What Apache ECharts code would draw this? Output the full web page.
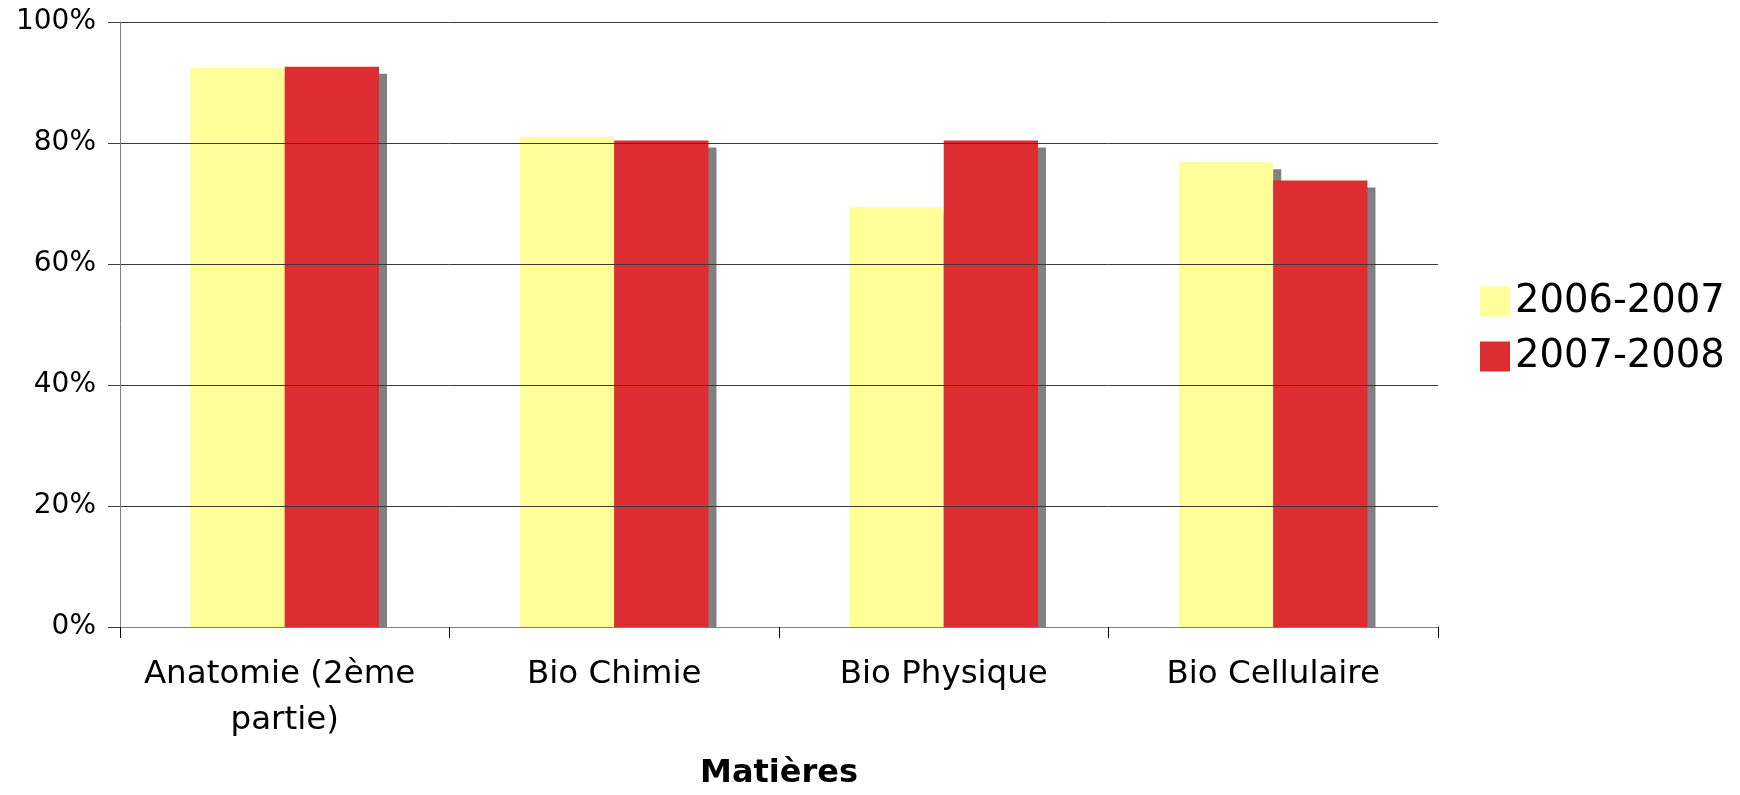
<!DOCTYPE html>
<html>
<head>
<meta charset="utf-8">
<script src="https://cdn.jsdelivr.net/npm/echarts@6/dist/echarts.min.js"></script>
<style>
html,body{margin:0;padding:0;background:#fff;}
#chart{width:1740px;height:795px;}
</style>
</head>
<body>
<div id="chart"></div>
<script>
const categories = ['Anatomie (2ème partie)', 'Bio Chimie', 'Bio Physique', 'Bio Cellulaire'];
const seriesNames = ['2006-2007', '2007-2008'];
const values2006 = [92.4, 81.0, 69.4, 76.8];
const values2007 = [92.6, 80.4, 80.4, 73.8];
const yTicks = [0, 20, 40, 60, 80, 100];

const FONT = 'DejaVu Sans';
const BAR_FRAC = 0.286;

function shadowRenderer(side) {
  return function (params, api) {
    const i = api.value(0), v = api.value(1);
    const top = api.coord([i, v]);
    const base = api.coord([i, 0]);
    const cw = api.size([1, 0])[0];
    const bw = cw * BAR_FRAC;
    const x0 = side === 0 ? top[0] - bw : top[0];
    return {
      type: 'rect',
      shape: { x: x0 + 8, y: top[1] + 7, width: bw, height: Math.max(0, base[1] - top[1] - 7) },
      style: { fill: '#808080' }
    };
  };
}

const chart = echarts.init(document.getElementById('chart'), null, { renderer: 'canvas' });
chart.setOption({
  animation: false,
  backgroundColor: '#ffffff',
  grid: { left: 120, right: 302, top: 22, bottom: 161, containLabel: false },
  legend: {
    data: seriesNames,
    orient: 'vertical',
    left: 1475,
    top: 277,
    itemWidth: 30,
    itemHeight: 30,
    itemGap: 16,
    icon: 'rect',
    textStyle: { fontFamily: FONT, fontSize: 38.5, color: '#000', lineHeight: 38 }
  },
  xAxis: {
    type: 'category',
    data: categories,
    boundaryGap: true,
    z: 10,
    axisLine: { show: true, lineStyle: { color: '#808080', width: 1 } },
    axisTick: { show: true, length: 11, alignWithLabel: false, lineStyle: { color: '#000', width: 1 } },
    axisLabel: {
      fontFamily: FONT, fontSize: 32.5, color: '#000', margin: 25, lineHeight: 46,
      width: 310, overflow: 'break', interval: 0
    },
    name: 'Matières',
    nameLocation: 'middle',
    nameGap: 131,
    nameTextStyle: { fontFamily: FONT, fontSize: 32, fontWeight: 'bold', color: '#000' }
  },
  yAxis: {
    type: 'value',
    min: yTicks[0],
    max: yTicks[yTicks.length - 1],
    interval: 20,
    z: 10,
    axisLine: { show: true, lineStyle: { color: '#808080', width: 1 } },
    axisTick: { show: true, length: 12, lineStyle: { color: '#404040', width: 1 } },
    splitLine: { show: true, lineStyle: { color: '#3a3a3a', width: 1 } },
    axisLabel: {
      fontFamily: FONT, fontSize: 28, color: '#000', margin: 24,
      formatter: function (v) { return v + '%'; }
    }
  },
  series: [
    {
      type: 'custom', name: 'shadow0', z: 1, silent: true,
      renderItem: shadowRenderer(0),
      data: values2006.map((v, i) => [i, v])
    },
    {
      type: 'custom', name: 'shadow1', z: 1, silent: true,
      renderItem: shadowRenderer(1),
      data: values2007.map((v, i) => [i, v])
    },
    {
      type: 'bar', name: seriesNames[0], data: values2006, z: 2,
      barWidth: (BAR_FRAC * 100) + '%', barGap: '0%',
      itemStyle: { color: '#FFFF99' }
    },
    {
      type: 'bar', name: seriesNames[1], data: values2007, z: 2,
      barWidth: (BAR_FRAC * 100) + '%', barGap: '0%',
      itemStyle: { color: '#DE2C33' }
    }
  ]
});
</script>
</body>
</html>
